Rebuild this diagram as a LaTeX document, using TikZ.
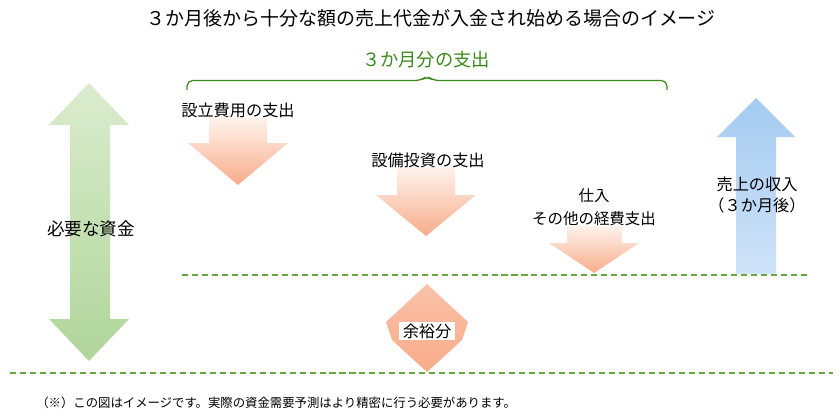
\documentclass[tikz,border=0pt]{standalone}
\usepackage{fontspec}
\setmainfont{Noto Sans CJK JP}

\definecolor{bracegreen}{RGB}{58,138,28}
\definecolor{dashgreen}{RGB}{104,168,58}
\definecolor{moneytop}{RGB}{218,236,206}
\definecolor{moneybot}{RGB}{176,213,154}
\definecolor{costtop}{RGB}{254,243,236}
\definecolor{costbot}{RGB}{248,172,138}
\definecolor{salestop}{RGB}{164,203,240}
\definecolor{salesbot}{RGB}{207,227,249}

\tikzset{
  lbl/.style={font=\fontsize{11.5}{16}\selectfont, inner sep=0pt, align=center},
  levelline/.style={dashgreen, line width=1.1pt, dash pattern=on 4.3pt off 2.8pt},
  costarrow/.style={top color=costtop, bottom color=costbot},
  moneyarrow/.style={top color=moneytop, bottom color=moneybot},
  salesarrow/.style={top color=salestop, bottom color=salesbot},
}

\begin{document}
\begin{tikzpicture}[x=0.025cm, y=-0.025cm]
    \useasboundingbox (0,0) rectangle (840,420);

    \node[font=\fontsize{13.5}{16}\selectfont] (title) at (431,18) {３か月後から十分な額の売上代金が入金され始める場合のイメージ};
    \node[font=\fontsize{13}{16}\selectfont, text=bracegreen] (period) at (426,60) {３か月分の支出};

    % brace over the three months
    \draw[bracegreen, line width=0.9pt, rounded corners=4pt]
      (187,90) -- (187,80.5) -- (421,80.5) -- (427,76) -- (433,80.5) -- (667,80.5) -- (667,90);

    % money needed
    \shade[moneyarrow] (89,83) -- (129,125) -- (110,125) -- (110,319) -- (129,319)
      -- (89,361) -- (49,319) -- (70,319) -- (70,125) -- (49,125) -- cycle;
    \node[lbl, font=\fontsize{12.5}{16}\selectfont] (need) at (91,229) {必要な資金};

    % spending
    \shade[costarrow] (209,118) -- (267,118) -- (267,143) -- (288,143) -- (238,185)
      -- (188,143) -- (209,143) -- cycle;
    \node[lbl] (setup) at (238,110) {設立費用の支出};

    \shade[costarrow] (397,167) -- (455,167) -- (455,195) -- (476,195) -- (426,236)
      -- (376,195) -- (397,195) -- cycle;
    \node[lbl] (invest) at (428,160) {設備投資の支出};

    \shade[costarrow] (567,226) -- (622,226) -- (622,243) -- (639,243) -- (594,273)
      -- (549,243) -- (567,243) -- cycle;
    \node[lbl, font=\fontsize{11}{16.4}\selectfont] (stock) at (594,207) {仕入\\その他の経費支出};

    % margin
    \shade[top color=costbot!75!white, middle color=costtop, bottom color=costbot]
      (427,284) -- (468,322) -- (462,340) -- (427,372) -- (392,340) -- (386,322) -- cycle;
    \node[lbl, fill=white, inner xsep=3pt, inner ysep=1pt] (spare) at (427,331) {余裕分};

    % income
    \shade[salesarrow] (756,98) -- (795,137) -- (776,137) -- (776,274) -- (736,274)
      -- (736,137) -- (717,137) -- cycle;
    \node[lbl, font=\fontsize{11.5}{15.6}\selectfont] (sales) at (757,195) {売上の収入\\（３か月後）};

    % levels
    \draw[levelline] (182,275) -- (808,275);
    \draw[levelline] (10,373) -- (833,373);

    \node[font=\fontsize{8.8}{11}\selectfont, anchor=west, inner sep=0pt] (note) at (36,403)
      {（※）この図はイメージです。実際の資金需要予測はより精密に行う必要があります。};
  \end{tikzpicture}
\end{document}
